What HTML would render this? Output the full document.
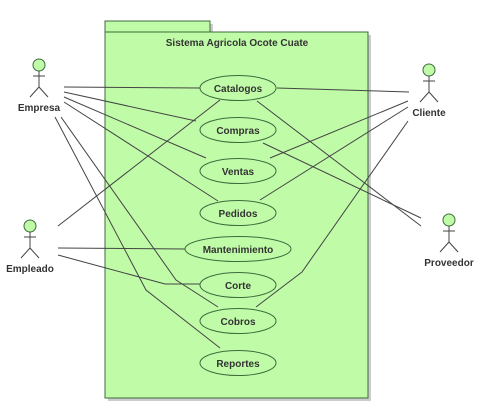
<!DOCTYPE html>
<html><head><style>body{margin:0;background:#fff}</style></head><body>
<svg width="480" height="411" xmlns="http://www.w3.org/2000/svg" font-family="Liberation Sans, sans-serif" font-weight="bold">
<rect x="108" y="24" width="105" height="11" fill="#ccc"/>
<rect x="108" y="35" width="263" height="366" fill="#ccc"/>
<rect x="105" y="21" width="105" height="11" fill="#c0fca8" stroke="#3d6b3d"/>
<rect x="105" y="32" width="263" height="366" fill="#c0fca8" stroke="#3d6b3d"/>
<text x="237" y="46" font-size="10" text-anchor="middle" fill="#333">Sistema Agricola Ocote Cuate</text>
<g stroke="#444" stroke-width="1" fill="none">
<line x1="64" y1="87" x2="200" y2="88"/>
<line x1="64" y1="92" x2="196" y2="121"/>
<line x1="64" y1="97" x2="206" y2="158"/>
<line x1="64" y1="102" x2="218" y2="201"/>
<polyline points="55,117 146,290 220,348"/>
<polyline points="61,117 176,280 218,307"/>
<line x1="58" y1="226" x2="220" y2="100"/>
<line x1="58" y1="248" x2="185" y2="249"/>
<polyline points="58,255 165,284 200,284"/>
<line x1="277" y1="88" x2="409" y2="92"/>
<line x1="270" y1="158" x2="408" y2="101"/>
<line x1="260" y1="200" x2="408" y2="107"/>
<polyline points="256,307 302,272 408,121"/>
<line x1="257" y1="101" x2="421" y2="226"/>
<line x1="263" y1="143" x2="421" y2="218"/>
</g>
<g fill="#c0fca8" stroke="#3d6b3d">
<ellipse cx="238" cy="88" rx="38" ry="12.5"/>
<ellipse cx="238" cy="130" rx="38" ry="12.5"/>
<ellipse cx="238" cy="171" rx="38" ry="12.5"/>
<ellipse cx="238" cy="213" rx="38" ry="12.5"/>
<ellipse cx="238" cy="249" rx="53" ry="12.5"/>
<ellipse cx="238" cy="285" rx="38" ry="12.5"/>
<ellipse cx="238" cy="321" rx="38" ry="12.5"/>
<ellipse cx="238" cy="363" rx="38" ry="12.5"/>
</g>
<g font-size="10" text-anchor="middle" fill="#333">
<text x="238" y="92">Catalogos</text>
<text x="238" y="134">Compras</text>
<text x="238" y="175">Ventas</text>
<text x="238" y="217">Pedidos</text>
<text x="238" y="253">Mantenimiento</text>
<text x="238" y="289">Corte</text>
<text x="238" y="325">Cobros</text>
<text x="238" y="367">Reportes</text>
</g>
<g stroke="#444" fill="none">
<g transform="translate(39,65)"><circle r="6" fill="#c0fca8" stroke="#3d6b3d"/><path d="M0 6V22M-6 11H6M0 22L-9 32M0 22L9 32"/></g>
<g transform="translate(429,70)"><circle r="6" fill="#c0fca8" stroke="#3d6b3d"/><path d="M0 6V22M-6 11H6M0 22L-9 32M0 22L9 32"/></g>
<g transform="translate(30,226)"><circle r="6" fill="#c0fca8" stroke="#3d6b3d"/><path d="M0 6V22M-6 11H6M0 22L-9 32M0 22L9 32"/></g>
<g transform="translate(449,220)"><circle r="6" fill="#c0fca8" stroke="#3d6b3d"/><path d="M0 6V22M-6 11H6M0 22L-9 32M0 22L9 32"/></g>
</g>
<g font-size="10" text-anchor="middle" fill="#333">
<text x="39" y="111">Empresa</text>
<text x="429" y="116">Cliente</text>
<text x="30" y="272">Empleado</text>
<text x="449" y="266">Proveedor</text>
</g>
</svg>
</body></html>
